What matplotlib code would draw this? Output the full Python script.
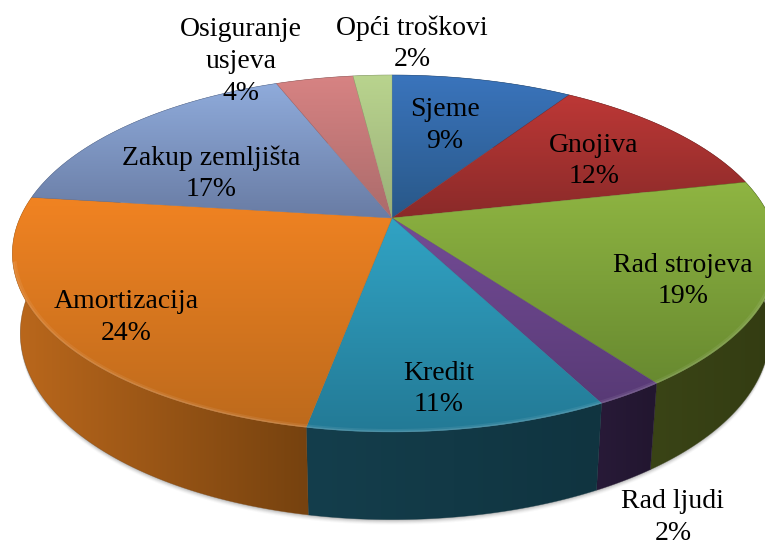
import numpy as np
import matplotlib
matplotlib.use("Agg")
import matplotlib.pyplot as plt
from matplotlib.colors import LinearSegmentedColormap
from matplotlib.patches import Polygon

categories = ["Sjeme", "Gnojiva", "Rad strojeva", "Rad ljudi", "Kredit",
              "Amortizacija", "Zakup zemljišta", "Osiguranje\nusjeva", "Opći troškovi"]
# the chart only prints whole percents, decimals estimated from the slice edges
values = [9.2, 12.3, 18.51, 2.45, 10.51, 24.0, 17.03, 4.0, 2.0]

# top face colours, far end -> near end
top_light = ["#3a74bc", "#bd3836", "#8fb542", "#744c96", "#31a3c4", "#f18322", "#8fabdb", "#d78383", "#b9d48e"]
top_dark = ["#295888", "#8a2a29", "#688a30", "#583a76", "#237a96", "#bd6a1c", "#697ca4", "#ab6b6b", "#9aaf78"]
# wall colours, left -> right
wall_left = ["#1c3050", "#4c1614", "#3a4416", "#281a38", "#143e4c", "#bb681c", "#3a4a66", "#664040", "#5a6a48"]
wall_right = ["#1c3050", "#4c1614", "#333c12", "#22162f", "#103440", "#76420f", "#3a4a66", "#664040", "#5a6a48"]

# label centres in pixels, first line of each label
label_xy = [(445, 110), (594, 145), (683, 265), (673, 502), (439, 373), (126, 302), (211, 158), (241, 30), (412, 28)]
line_gap = 31.5

cx, cy = 392, 218
rx_left, rx_right, ry, k = 372, 378, 171.4, 0.199
wall_drop, wall_tilt, wall_shrink = 78, 15, 0.98

plt.rcParams["font.family"] = ["Liberation Serif", "DejaVu Serif"]
fig = plt.figure(figsize=(7.65, 5.46), dpi=100)
ax = fig.add_axes([0, 0, 1, 1])


def project(theta, r=1.0):
    # theta runs clockwise from the far end of the disc
    xx = r * np.sin(theta)
    yy = r * np.cos(theta)
    f = 1 / (1 + k * yy)
    rx = np.where(xx < 0, rx_left, rx_right)
    return cx + rx * xx * f, cy - ry * yy * f


def project_bottom(theta, extra=0.0):
    # bottom disc sits lower and a bit smaller, more so at the front
    x, y = project(theta, r=wall_shrink)
    return x, y + wall_drop - wall_tilt * np.cos(theta) + extra


def gradient_fill(pts, c1, c2, vertical, zorder):
    pts = np.array(pts)
    cmap = LinearSegmentedColormap.from_list("g", [c1, c2])
    patch = Polygon(pts, closed=True, facecolor="none", edgecolor="none", transform=ax.transData)
    ax.add_patch(patch)
    grad = np.linspace(0, 1, 128)
    grad = grad.reshape(-1, 1) if vertical else grad.reshape(1, -1)
    im = ax.imshow(grad, cmap=cmap, aspect="auto", interpolation="bilinear", zorder=zorder,
                   extent=(pts[:, 0].min(), pts[:, 0].max(), pts[:, 1].max(), pts[:, 1].min()))
    im.set_clip_path(patch)
    # hairline of the same colour closes the seams between slices
    ax.add_patch(Polygon(pts, closed=True, facecolor="none", edgecolor=c2, lw=0.4, alpha=0.6, zorder=zorder))


edges = np.cumsum([0] + values) / sum(values) * 2 * np.pi

# soft shadow under the pie
full = np.linspace(0, 2 * np.pi, 300)
for off, alpha in zip([5, 4, 3, 2, 1], [0.03, 0.05, 0.07, 0.09, 0.12]):
    sx, sy = project_bottom(full, extra=off)
    ax.fill(sx, sy, color="#404040", alpha=alpha, lw=0, zorder=1)

# walls
for i in range(len(values)):
    t = np.linspace(edges[i], edges[i + 1], 80)
    x1, y1 = project(t)
    x2, y2 = project_bottom(t[::-1])
    pts = np.column_stack([np.r_[x1, x2], np.r_[y1, y2]])
    gradient_fill(pts, wall_left[i], wall_right[i], False, 2)

# top faces
for i in range(len(values)):
    t = np.linspace(edges[i], edges[i + 1], 80)
    x1, y1 = project(t)
    pts = np.column_stack([np.r_[cx, x1], np.r_[cy, y1]])
    gradient_fill(pts, top_light[i], top_dark[i], True, 3)

# bright band along the front rim
t = np.linspace(np.pi * 0.62, np.pi * 1.42, 300)
for r, lw, alpha in [(0.994, 2.0, 0.07), (0.998, 1.0, 0.12)]:
    x1, y1 = project(t, r=r)
    ax.plot(x1, y1, color="white", lw=lw, alpha=alpha, zorder=4)

# labels
for name, val, (lx, ly) in zip(categories, values, label_xy):
    lines = name.split("\n") + [f"{val:.0f}%"]
    for j, line in enumerate(lines):
        ax.text(lx, ly + j * line_gap, line, ha="center", va="center", fontsize=20, color="black", zorder=5)

ax.set_xlim(0, 765)
ax.set_ylim(546, 0)
ax.axis("off")
fig.savefig("out.png", dpi=100)
